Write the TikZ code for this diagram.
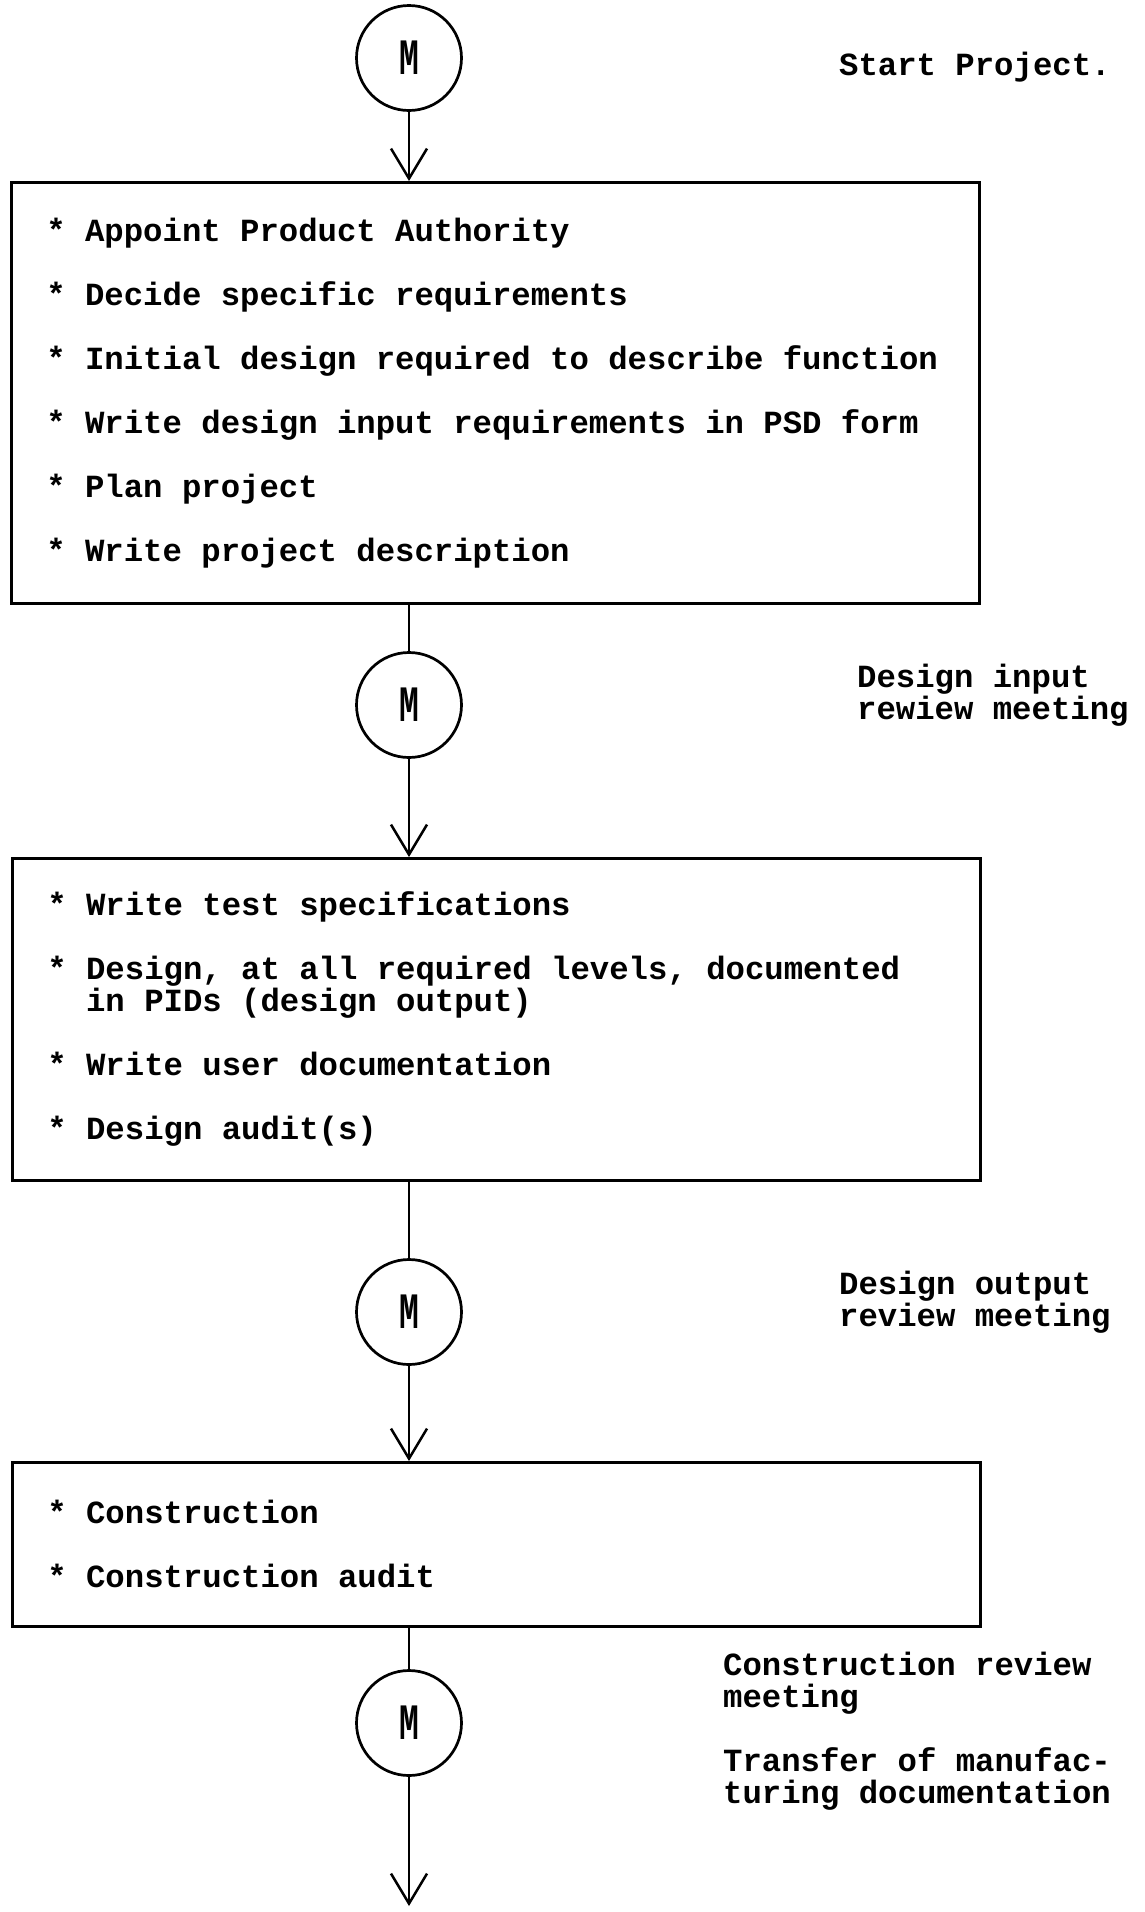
\documentclass[tikz,border=0pt]{standalone}
\usepackage{fontspec}
\usepackage{graphicx}
\setmainfont{Liberation Mono}
\usetikzlibrary{arrows.meta}
\newcommand{\fullsp}{\spaceskip=0pt\xspaceskip=0pt\relax}
\tikzset{
  txt/.style={font=\fontsize{32.3}{32}\selectfont\bfseries},
  box/.style={txt, draw, line width=2.7pt, rectangle, inner xsep=35pt, inner ysep=0pt,
    text width=898pt, align=left, anchor=north west},
  mc/.style={draw, circle, line width=2.7pt, minimum size=105pt, inner sep=0pt,
    font=\fontsize{30}{30}\selectfont\bfseries},
  lbl/.style={txt, align=left, anchor=west, inner sep=0pt},
  plain/.style={line width=2.5pt},
  conn/.style={line width=2.5pt, -{Straight Barb[length=30pt,width=36pt]}},
}
\begin{document}
\begin{tikzpicture}[x=1pt,y=-1pt]
\useasboundingbox (0,0) rectangle (1145,1912);
% milestones
\node[mc] (m1) at (409,58) {\scalebox{1.1}[1.7]{M}};
\node[mc] (m2) at (409,705) {\scalebox{1.1}[1.7]{M}};
\node[mc] (m3) at (409,1312) {\scalebox{1.1}[1.7]{M}};
\node[mc] (m4) at (409,1723) {\scalebox{1.1}[1.7]{M}};
% boxes
\node[box, minimum height=421pt] (b1) at (10,181) {\fullsp
* Appoint Product Authority\\[32pt]
* Decide specific requirements\\[32pt]
* Initial design required to describe function\\[32pt]
* Write design input requirements in PSD form\\[32pt]
* Plan project\\[32pt]
* Write project description};
\node[box, minimum height=322pt] (b2) at (11,857) {\fullsp
* Write test specifications\\[32pt]
* Design, at all required levels, documented\\
\phantom{*}\ in PIDs (design output)\\[32pt]
* Write user documentation\\[32pt]
* Design audit(s)};
\node[box, minimum height=164pt] (b3) at (11,1461) {\fullsp
* Construction\\[32pt]
* Construction audit};
% labels
\node[lbl] (l1) at (839,67) {Start Project.};
\node[lbl] (l2) at (857,695) {Design input\\rewiew meeting};
\node[lbl] (l3) at (839,1302) {Design output\\review meeting};
\node[lbl] (l4) at (723,1683) {Construction review\\meeting};
\node[lbl] (l5) at (723,1779) {Transfer of manufac-\\turing documentation};
% connectors
\coordinate (end) at (409,1906);
\draw[conn] (m1) -- (m1 |- b1.north);
\draw[plain] (b1.south -| m2) -- (m2);
\draw[conn] (m2) -- (m2 |- b2.north);
\draw[plain] (b2.south -| m3) -- (m3);
\draw[conn] (m3) -- (m3 |- b3.north);
\draw[plain] (b3.south -| m4) -- (m4);
\draw[conn] (m4) -- (end);
\end{tikzpicture}
\end{document}
